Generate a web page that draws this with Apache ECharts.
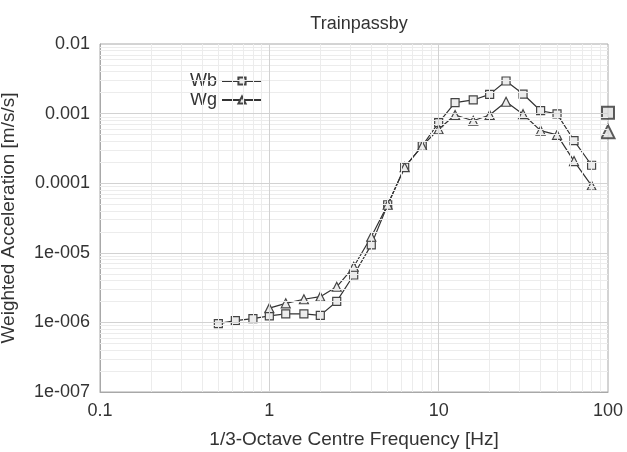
<!DOCTYPE html>
<html>
<head>
<meta charset="utf-8">
<script src="https://cdn.jsdelivr.net/npm/echarts@6/dist/echarts.min.js"></script>
<style>
  html, body { margin: 0; padding: 0; background: #fff; }
  #chart { width: 627px; height: 452px; }
</style>
</head>
<body>
<div id="chart"></div>
<script>
// 1/3-octave centre frequencies [Hz]
var freqWb = [0.5, 0.63, 0.8, 1, 1.25, 1.6, 2, 2.5, 3.15, 4, 5, 6.3, 8, 10, 12.5, 16, 20, 25, 31.5, 40, 50, 63, 80];
var freqWg = [1, 1.25, 1.6, 2, 2.5, 3.15, 4, 5, 6.3, 8, 10, 12.5, 16, 20, 25, 31.5, 40, 50, 63, 80];

// weighted acceleration [m/s/s]
var wb = [9.6e-7, 1.06e-6, 1.13e-6, 1.24e-6, 1.33e-6, 1.33e-6, 1.26e-6, 2.0e-6, 4.8e-6, 1.3e-5, 4.9e-5,
  1.7e-4, 3.45e-4, 7.4e-4, 1.44e-3, 1.57e-3, 1.89e-3, 2.94e-3, 1.91e-3, 1.10e-3, 9.9e-4, 4.1e-4, 1.81e-4];
var wg = [1.6e-6, 1.88e-6, 2.15e-6, 2.34e-6, 3.25e-6, 6.3e-6, 1.7e-5, 4.9e-5,
  1.7e-4, 3.45e-4, 5.95e-4, 9.55e-4, 7.9e-4, 9.55e-4, 1.48e-3, 9.8e-4, 5.7e-4, 4.95e-4, 2.08e-4, 9.2e-5];

// overall values, drawn at the right edge
var overallFreq = 100;
var overallWb = 1.03e-3;
var overallWg = 5.5e-4;

var xMin = 0.1, xMax = 100;
var yMin = 1e-7, yMax = 0.01;
var xTickLabels = { "-1": "0.1", "0": "1", "1": "10", "2": "100" };
var yTickLabels = { "-7": "1e-007", "-6": "1e-006", "-5": "1e-005", "-4": "0.0001", "-3": "0.001", "-2": "0.01" };

var FONT = "Liberation Sans, Arial, sans-serif";

function pairs(xs, ys) {
  return xs.map(function (x, i) { return [x, ys[i]]; });
}

function expOf(v) {
  return String(Math.round(Math.log(v) / Math.LN10));
}

// log grid: 2..9 x each decade (minor), the decades themselves (major)
function decadeValues(lo, hi, minor) {
  var out = [];
  for (var e = lo; e < hi; e++) {
    if (minor) {
      for (var k = 2; k <= 9; k++) out.push(k * Math.pow(10, e));
    } else if (e > lo) {
      out.push(Math.pow(10, e));
    }
  }
  return out;
}

function vLines(vals) {
  return vals.map(function (v) { return [{ coord: [v, yMin] }, { coord: [v, yMax] }]; });
}
function hLines(vals) {
  return vals.map(function (v) { return [{ coord: [xMin, v] }, { coord: [xMax, v] }]; });
}

function gridSeries(name, lines, color) {
  return {
    name: name,
    type: "line",
    data: [],
    silent: true,
    z: 0,
    markLine: {
      silent: true,
      symbol: "none",
      label: { show: false },
      animation: false,
      lineStyle: { color: color, width: 1, type: "solid" },
      data: lines
    }
  };
}

var chart = echarts.init(document.getElementById("chart"));
chart.setOption({
  animation: false,
  backgroundColor: "#fff",
  title: {
    text: "Trainpassby",
    left: 354,
    textAlign: "center",
    top: 10,
    textStyle: { fontFamily: FONT, fontSize: 18, fontWeight: "normal", color: "#333" }
  },
  legend: {
    orient: "vertical",
    left: 185,
    top: 67,
    align: "right",
    itemWidth: 40,
    itemHeight: 9,
    itemGap: 1,
    textStyle: { fontFamily: FONT, fontSize: 18, color: "#333" },
    data: ["Wb", "Wg"]
  },
  grid: {
    left: 100, right: 19, top: 44, bottom: 60,
    outerBoundsMode: "none",
    containLabel: false,
    show: true, borderColor: "#a8a8a8", borderWidth: 1
  },
  xAxis: {
    type: "log",
    logBase: 10,
    min: xMin,
    max: xMax,
    name: "1/3-Octave Centre Frequency [Hz]",
    nameLocation: "middle",
    nameGap: 38,
    nameTextStyle: { fontFamily: FONT, fontSize: 19, color: "#333" },
    axisLine: { lineStyle: { color: "#a8a8a8" } },
    axisTick: { show: false },
    splitLine: { show: false },
    axisLabel: {
      fontFamily: FONT, fontSize: 18, color: "#333", margin: 10,
      formatter: function (v) { return xTickLabels[expOf(v)] || ""; }
    }
  },
  yAxis: {
    type: "log",
    logBase: 10,
    min: yMin,
    max: yMax,
    name: "Weighted Acceleration [m/s/s]",
    nameLocation: "middle",
    nameGap: 82,
    nameTextStyle: { fontFamily: FONT, fontSize: 19, color: "#333" },
    axisLine: { lineStyle: { color: "#a8a8a8" } },
    axisTick: { show: false },
    splitLine: { show: false },
    axisLabel: {
      fontFamily: FONT, fontSize: 18, color: "#333", margin: 10,
      formatter: function (v) { return yTickLabels[expOf(v)] || ""; }
    }
  },
  series: [
    gridSeries("gridMinor", vLines(decadeValues(-1, 2, true)).concat(hLines(decadeValues(-7, -2, true))), "#ececec"),
    gridSeries("gridMajor", vLines(decadeValues(-1, 2, false)).concat(hLines(decadeValues(-7, -2, false))), "#d2d2d2"),
    {
      name: "Wb",
      type: "line",
      data: pairs(freqWb, wb),
      symbol: "rect",
      symbolSize: 8,
      lineStyle: { color: "#333", width: 1.2 },
      itemStyle: { color: "#ececec", borderColor: "#444", borderWidth: 1.2 },
      z: 3
    },
    {
      name: "Wg",
      type: "line",
      data: pairs(freqWg, wg),
      symbol: "triangle",
      symbolSize: 9,
      lineStyle: { color: "#333", width: 1.2 },
      itemStyle: { color: "#ececec", borderColor: "#444", borderWidth: 1.2 },
      z: 3
    },
    {
      name: "overallWb",
      type: "scatter",
      data: [[overallFreq, overallWb]],
      symbol: "rect",
      symbolSize: 12,
      clip: false,
      itemStyle: { color: "#ddd", borderColor: "#333", borderWidth: 2 },
      z: 4
    },
    {
      name: "overallWg",
      type: "scatter",
      data: [[overallFreq, overallWg]],
      symbol: "triangle",
      symbolSize: 13,
      clip: false,
      itemStyle: { color: "#ddd", borderColor: "#333", borderWidth: 2 },
      z: 4
    }
  ]
});
</script>
</body>
</html>
